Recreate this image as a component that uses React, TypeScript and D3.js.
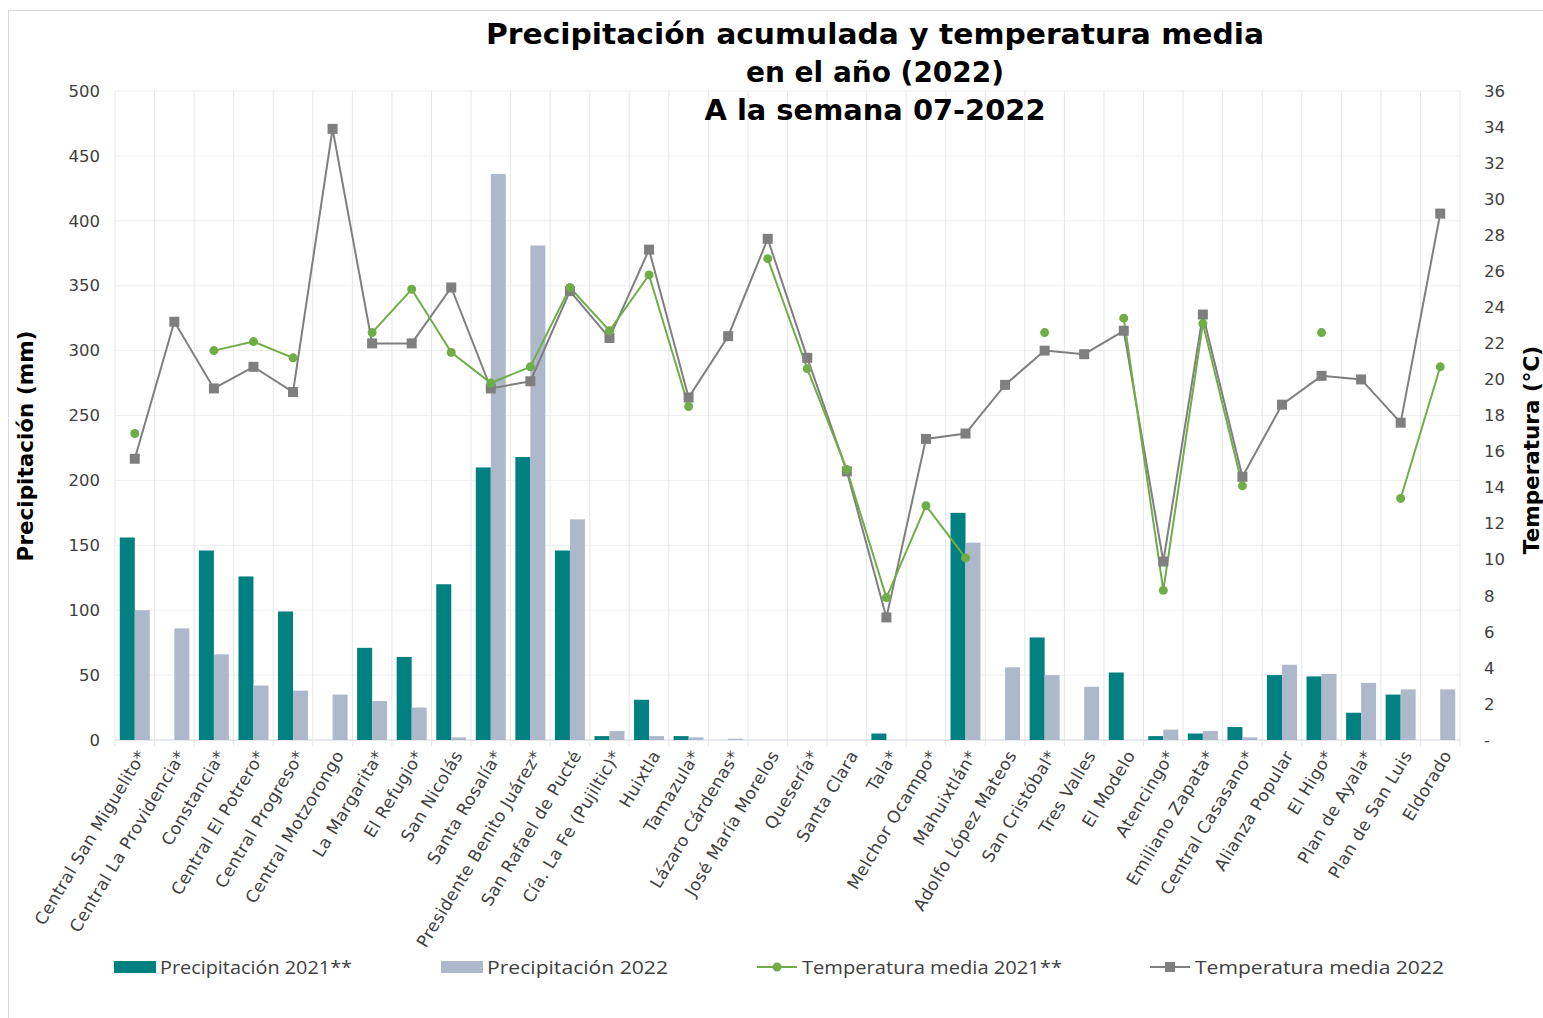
import React from "react";
import * as d3 from "d3";

const categories = [
  "Central San Miguelito*", "Central La Providencia*", "Constancia*", "Central El Potrero*",
  "Central Progreso*", "Central Motzorongo", "La Margarita*", "El Refugio*", "San Nicolás",
  "Santa Rosalía*", "Presidente Benito Juárez*", "San Rafael de Pucté", "Cía. La Fe (Pujiltic)*",
  "Huixtla", "Tamazula*", "Lázaro Cárdenas*", "José María Morelos", "Quesería*", "Santa Clara",
  "Tala*", "Melchor Ocampo*", "Mahuixtlán*", "Adolfo López Mateos", "San Cristóbal*", "Tres Valles",
  "El Modelo", "Atencingo*", "Emiliano Zapata*", "Central Casasano*", "Alianza Popular", "El Higo*",
  "Plan de Ayala*", "Plan de San Luis", "Eldorado",
];

const precip2021 = [
  156, 0, 146, 126, 99, 0, 71, 64, 120, 210, 218, 146, 3, 31, 3, 0, 0, 0, 0,
  5, 0, 175, 0, 79, 0, 52, 3, 5, 10, 50, 49, 21, 35, 0,
];

const precip2022 = [
  100, 86, 66, 42, 38, 35, 30, 25, 2, 436, 381, 170, 7, 3, 2, 1, 0, 0, 0,
  0, 0, 152, 56, 50, 41, 0, 8, 7, 2, 58, 51, 44, 39, 39,
];

const temp2021: (number | null)[] = [
  17.0, null, 21.6, 22.1, 21.2, null, 22.6, 25.0, 21.5, 19.8, 20.7, 25.1, 22.7,
  25.8, 18.5, null, 26.7, 20.6, 15.0, 7.9, 13.0, 10.1, null, 22.6, null, 23.4,
  8.3, 23.1, 14.1, null, 22.6, null, 13.4, 20.7,
];

const temp2022: (number | null)[] = [
  15.6, 23.2, 19.5, 20.7, 19.3, 33.9, 22.0, 22.0, 25.1, 19.5, 19.9, 24.9, 22.3,
  27.2, 19.0, 22.4, 27.8, 21.2, 14.9, 6.8, 16.7, 17.0, 19.7, 21.6, 21.4, 22.7,
  9.9, 23.6, 14.6, 18.6, 20.2, 20.0, 17.6, 29.2,
];

const precipTicks = [0, 50, 100, 150, 200, 250, 300, 350, 400, 450, 500];
const tempTicks = [0, 2, 4, 6, 8, 10, 12, 14, 16, 18, 20, 22, 24, 26, 28, 30, 32, 34, 36];

const titleLines = [
  "Precipitación  acumulada y temperatura  media",
  "en el año (2022)",
  "A la semana 07-2022",
];
const titleWidths = [778, 258, 341];

const legendItems = [
  { label: "Precipitación 2021**", kind: "bar", color: "#008080" },
  { label: "Precipitación 2022", kind: "bar", color: "#ADB9CA" },
  { label: "Temperatura media 2021**", kind: "lineCircle", color: "#70AD47" },
  { label: "Temperatura media 2022", kind: "lineSquare", color: "#7F7F7F" },
];
const legendWidths = [192, 181, 260, 249];

const FONT = "'DejaVu Sans', 'Open Sans', sans-serif";
const LEGEND_FONT = "'Open Sans', sans-serif";

export default function App() {
  const W = 1543;
  const H = 1018;
  const left = 115;
  const right = 1460;
  const top = 91;
  const bottom = 740;

  const x = d3.scaleBand<string>().domain(categories).range([left, right]).padding(0);
  const yP = d3.scaleLinear().domain([0, 500]).range([bottom, top]);
  const yT = d3.scaleLinear().domain([0, 36]).range([bottom, top]);
  const bw = x.bandwidth();
  const barW = 15;

  const cx = (i: number) => (x(categories[i]) as number) + bw / 2;

  const line = d3
    .line<number | null>()
    .defined((d) => d != null)
    .x((_, i) => cx(i))
    .y((d) => yT(d as number));

  const legendX = [114, 441, 757, 1150];

  return (
    <svg width={W} height={H} style={{ display: "block", position: "absolute", left: 0, top: 0 }} fontFamily={FONT}>
      <rect x={0} y={0} width={W} height={H} fill="#ffffff" />
      <rect x={8.5} y={10.5} width={W} height={H} fill="none" stroke="#D9D9D9" />

      {/* horizontal gridlines */}
      {precipTicks.map((t) => (
        <line key={"h" + t} x1={left} x2={right} y1={yP(t)} y2={yP(t)} stroke="#F0F0F2" strokeWidth={1} />
      ))}
      {/* vertical gridlines */}
      {d3.range(categories.length + 1).map((i) => {
        const xx = left + i * bw;
        return <line key={"v" + i} x1={xx} x2={xx} y1={top} y2={bottom + 6} stroke="#E4E7EE" strokeWidth={1} />;
      })}
      <line x1={left} x2={right} y1={bottom} y2={bottom} stroke="#D9DCE3" strokeWidth={1} />

      {/* bars */}
      {categories.map((c, i) => (
        <g key={"b" + i}>
          {precip2021[i] > 0 && (
            <rect x={cx(i) - barW} y={yP(precip2021[i])} width={barW} height={bottom - yP(precip2021[i])} fill="#008080" />
          )}
          {precip2022[i] > 0 && (
            <rect x={cx(i)} y={yP(precip2022[i])} width={barW} height={bottom - yP(precip2022[i])} fill="#ADB9CA" />
          )}
        </g>
      ))}

      {/* lines */}
      <path d={line(temp2022) || ""} fill="none" stroke="#7F7F7F" strokeWidth={2} />
      <path d={line(temp2021) || ""} fill="none" stroke="#70AD47" strokeWidth={2} />
      {temp2022.map((v, i) =>
        v == null ? null : <rect key={"s" + i} x={cx(i) - 5} y={yT(v) - 5} width={10} height={10} fill="#7F7F7F" />
      )}
      {temp2021.map((v, i) =>
        v == null ? null : <circle key={"c" + i} cx={cx(i)} cy={yT(v)} r={4.5} fill="#70AD47" />
      )}

      {/* left axis labels */}
      {precipTicks.map((t) => (
        <text key={"lt" + t} x={100} y={yP(t)} dy="0.35em" textAnchor="end" fontSize={16.5} fill="#404040">
          {t}
        </text>
      ))}
      {/* right axis labels */}
      {tempTicks.map((t) => (
        <text key={"rt" + t} x={1484} y={yT(t)} dy="0.35em" textAnchor="start" fontSize={16.5} fill="#404040">
          {t === 0 ? "-" : t}
        </text>
      ))}

      {/* category labels */}
      {categories.map((c, i) => (
        <text
          key={"cl" + i}
          transform={`translate(${cx(i) + 7},${bottom + 12}) rotate(-59)`}
          textAnchor="end"
          dy="0.35em"
          fontSize={17}
          letterSpacing={0.4}
          fill="#404040"
        >
          {c}
        </text>
      ))}

      {/* axis titles */}
      <text transform={`translate(33,${446}) rotate(-90)`} textAnchor="middle" fontSize={21.5} fontWeight="bold" fill="#000">
        Precipitación (mm)
      </text>
      <text transform={`translate(1539,${450}) rotate(-90)`} textAnchor="middle" fontSize={21.5} fontWeight="bold" fill="#000">
        Temperatura (°C)
      </text>

      {/* title */}
      {titleLines.map((s, i) => (
        <text
          key={"t" + i}
          x={875}
          y={34 + i * 38}
          dy="0.35em"
          textAnchor="middle"
          fontSize={28}
          fontWeight="bold"
          fill="#000"
          textLength={titleWidths[i]}
          lengthAdjust="spacingAndGlyphs"
        >
          {s}
        </text>
      ))}

      {/* legend */}
      {legendItems.map((it, i) => {
        const lx = legendX[i];
        const ly = 967;
        const tx = lx + (it.kind === "bar" ? 46 : 45);
        return (
          <g key={"lg" + i}>
            {it.kind === "bar" && <rect x={lx} y={ly - 6} width={42} height={12} fill={it.color} />}
            {it.kind !== "bar" && <line x1={lx} x2={lx + 40} y1={ly} y2={ly} stroke={it.color} strokeWidth={2} />}
            {it.kind === "lineCircle" && <circle cx={lx + 20} cy={ly} r={4.5} fill={it.color} />}
            {it.kind === "lineSquare" && <rect x={lx + 15} y={ly - 5} width={10} height={10} fill={it.color} />}
            <text
              x={tx}
              y={ly}
              dy="0.35em"
              fontSize={19}
              fontFamily={LEGEND_FONT}
              fill="#404040"
              textLength={legendWidths[i]}
              lengthAdjust="spacingAndGlyphs"
            >
              {it.label}
            </text>
          </g>
        );
      })}
    </svg>
  );
}
